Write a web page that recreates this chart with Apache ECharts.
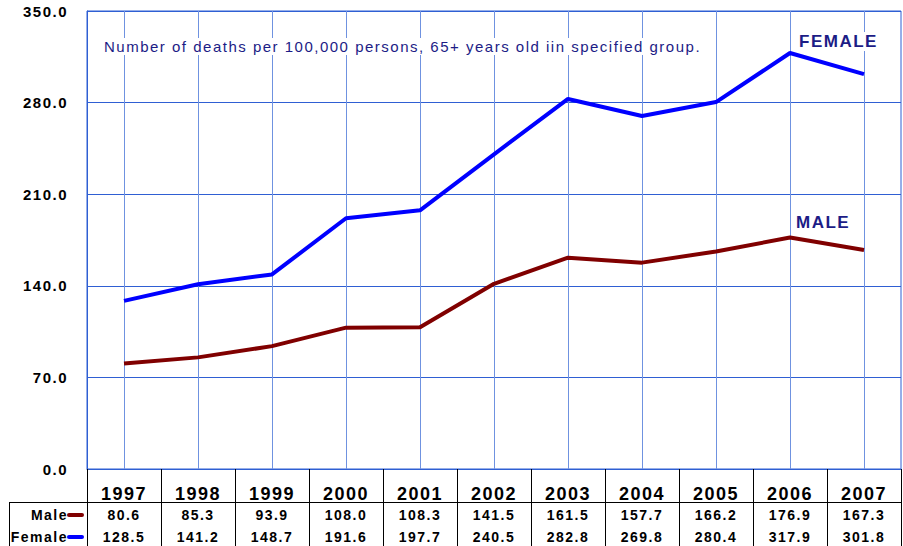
<!DOCTYPE html>
<html>
<head>
<meta charset="utf-8">
<script src="https://cdn.jsdelivr.net/npm/echarts@6/dist/echarts.min.js"></script>
<style>
html,body{margin:0;padding:0;background:#fff;}
#c{width:903px;height:546px;}
#c text{letter-spacing:1.5px;}
</style>
</head>
<body>
<div id="c"></div>
<script>
var years = ['1997','1998','1999','2000','2001','2002','2003','2004','2005','2006','2007'];
var male = [80.6, 85.3, 93.9, 108.0, 108.3, 141.5, 161.5, 157.7, 166.2, 176.9, 167.3];
var female = [128.5, 141.2, 148.7, 191.6, 197.7, 240.5, 282.8, 269.8, 280.4, 317.9, 301.8];
var seriesNames = ['Male', 'Female'];
var note = 'Number of deaths per 100,000 persons, 65+ years old iin specified group.';

var GRID_BLUE = '#2f5fd3';
var VGRID_BLUE = '#6f92e0';
var MALE_C = '#800000';
var FEMALE_C = '#0000ff';
var NAVY = '#1c1c86';
var FONT = 'Liberation Sans';

var chart = echarts.init(document.getElementById('c'), null, {renderer: 'svg'});

function valAxis(arr, margin) {
  return {
    type: 'category', data: years, boundaryGap: true, gridIndex: 0, position: 'bottom',
    axisLine: {show: false}, axisTick: {show: false}, splitLine: {show: false},
    axisLabel: {
      interval: 0, margin: margin, color: '#000', fontFamily: FONT, fontWeight: 'bold', fontSize: 14,
      formatter: function (v, i) { return arr[i].toFixed(1); }
    }
  };
}

chart.setOption({
  animation: false,
  backgroundColor: '#fff',
  grid: {left: 87, right: 2, top: 11, bottom: 77, show: true, borderColor: GRID_BLUE, borderWidth: 1, containLabel: false},
  title: [
    {text: note, left: 101, top: 38, padding: [1, 112, 1, 3],
     backgroundColor: '#fff',
     textStyle: {fontFamily: FONT, fontSize: 15, fontWeight: 'normal', color: NAVY}},
    {text: 'FEMALE', left: 797, top: 32, padding: [1, 10, 1, 2], backgroundColor: '#fff',
     textStyle: {fontFamily: FONT, fontSize: 17, fontWeight: 'bold', color: NAVY}},
    {text: 'MALE', left: 794, top: 213, padding: [1, 8, 1, 2], backgroundColor: '#fff',
     textStyle: {fontFamily: FONT, fontSize: 17, fontWeight: 'bold', color: NAVY}}
  ],
  xAxis: [
    {
      type: 'category', data: years, boundaryGap: true, position: 'bottom',
      axisLine: {show: true, lineStyle: {color: GRID_BLUE, width: 1}},
      axisTick: {show: true, interval: 0, length: 77, inside: false, lineStyle: {color: '#000', width: 1}},
      splitLine: {show: false},
      axisLabel: {interval: 0, margin: 16, color: '#000', fontFamily: FONT, fontWeight: 'bold', fontSize: 18}
    },
    valAxis(male, 39),
    valAxis(female, 61)
  ],
  yAxis: {
    type: 'value', min: 0, max: 350, interval: 70,
    axisLine: {show: true, lineStyle: {color: GRID_BLUE}},
    axisTick: {show: false},
    splitLine: {show: true, lineStyle: {color: GRID_BLUE, width: 1}},
    axisLabel: {margin: 19, color: '#000', fontFamily: FONT, fontWeight: 'bold', fontSize: 15,
      verticalAlign: 'middle',
      formatter: function (v) { return v.toFixed(1); }}
  },
  series: [
    {
      name: seriesNames[0], type: 'line', data: male, xAxisIndex: 0, symbol: 'none', z: 3,
      lineStyle: {color: MALE_C, width: 4}, itemStyle: {color: MALE_C},
      markLine: {
        silent: true, symbol: ['none', 'none'], z: 1, label: {show: false},
        lineStyle: {color: VGRID_BLUE, width: 1, type: 'solid'},
        emphasis: {disabled: true},
        data: years.map(function (y) { return {xAxis: y}; })
      }
    },
    {
      name: seriesNames[1], type: 'line', data: female, xAxisIndex: 0, symbol: 'none', z: 3,
      lineStyle: {color: FEMALE_C, width: 4}, itemStyle: {color: FEMALE_C}
    }
  ],
  graphic: [
    {type: 'line', shape: {x1: 9, y1: 502.5, x2: 901, y2: 502.5}, style: {stroke: '#000', lineWidth: 1}},
    {type: 'line', shape: {x1: 9.5, y1: 502, x2: 9.5, y2: 546}, style: {stroke: '#000', lineWidth: 1}},
    {type: 'text', x: 68, y: 515, style: {text: seriesNames[0], fill: '#000', font: 'bold 14px "Liberation Sans"', textAlign: 'right', textVerticalAlign: 'middle'}},
    {type: 'text', x: 68, y: 537, style: {text: seriesNames[1], fill: '#000', font: 'bold 14px "Liberation Sans"', textAlign: 'right', textVerticalAlign: 'middle'}},
    {type: 'rect', shape: {x: 67, y: 513, width: 17, height: 4, r: 2}, style: {fill: MALE_C}},
    {type: 'rect', shape: {x: 67, y: 535, width: 17, height: 4, r: 2}, style: {fill: FEMALE_C}}
  ]
});
</script>
</body>
</html>
